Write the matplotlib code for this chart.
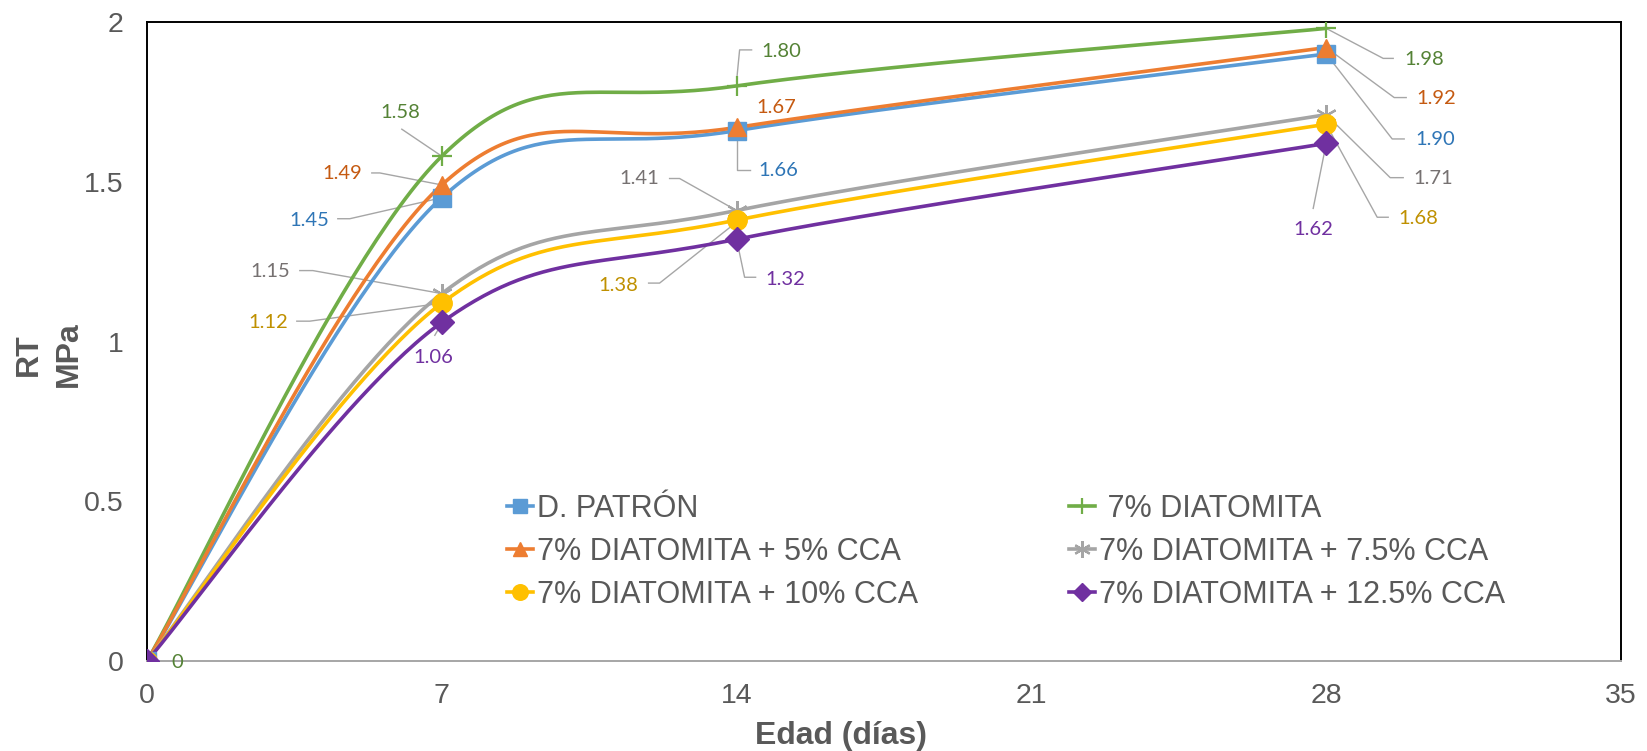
import numpy as np
import matplotlib
matplotlib.use('Agg')
import matplotlib.pyplot as plt
import matplotlib.transforms as mtransforms

# data
dias = [0, 7, 14, 28]
series_names = ['D. PATRÓN', ' 7% DIATOMITA', '7% DIATOMITA + 5% CCA',
                '7% DIATOMITA + 7.5% CCA', '7% DIATOMITA + 10% CCA',
                '7% DIATOMITA + 12.5% CCA']
patron = [0, 1.45, 1.66, 1.90]
diat = [0, 1.58, 1.80, 1.98]
cca5 = [0, 1.49, 1.67, 1.92]
cca75 = [0, 1.15, 1.41, 1.71]
cca10 = [0, 1.12, 1.38, 1.68]
cca125 = [0, 1.06, 1.32, 1.62]
xticks = [0, 7, 14, 21, 28, 35]
yticks = [0, 0.5, 1, 1.5, 2]
ytick_labels = ['0', '0.5', '1', '1.5', '2']

values = [patron, diat, cca5, cca75, cca10, cca125]
colors = ['#5B9BD5', '#70AD47', '#ED7D31', '#A5A5A5', '#FFC000', '#7030A0']
label_colors = ['#2E75B6', '#548235', '#C55A11', '#767171', '#BF9000', '#7030A0']
markers = ['s', '+', '^', (6, 2, 0), 'o', 'D']
msizes = [13, 15, 13, 15, 14, 12]

# label placement: offsets in pixels from the point (dx right, dy down), leader polyline
label_layout = {
    0: {1: ((-133, 23), [(-104, 21), (-92, 21), (0, 0)]),
        2: ((42, 40), [(0, 0), (0, 39), (13, 39)]),
        3: ((109, 86), [(0, 0), (66, 85), (78, 85)])},
    1: {0: ((30, 2), None),
        1: ((-42, -44), [(-40, -27), (0, 0)]),
        2: ((45, -34), [(15, -36), (3, -36), (0, -5)]),
        3: ((98, 31), [(0, 0), (57, 30), (67, 30)])},
    2: {1: ((-100, -11), [(-70, -12), (-62, -12), (0, 0)]),
        2: ((40, -20), None),
        3: ((110, 51), [(0, 0), (68, 50), (80, 50)])},
    3: {1: ((-172, -22), [(-142, -23), (-129, -23), (0, 0)]),
        2: ((-97, -32), [(-67, -32), (-57, -32), (0, 0)]),
        3: ((107, 64), [(0, 0), (64, 63), (77, 63)])},
    4: {1: ((-174, 19), [(-145, 18), (-132, 18), (0, 0)]),
        2: ((-118, 65), [(-88, 63), (-77, 63), (0, 2)]),
        3: ((92, 94), [(0, 0), (51, 93), (62, 93)])},
    5: {1: ((-9, 35), [(-7, 13), (0, 1)]),
        2: ((49, 40), [(0, 0), (8, 38), (19, 38)]),
        3: ((-13, 86), [(0, 0), (-13, 65)])},
}


def smooth(xs, ys, n=60):
    # excel-like smoothed line (cubic bezier, catmull-rom control points)
    p = np.column_stack([xs, ys]).astype(float)
    pts = [p[0]]
    for i in range(len(p) - 1):
        p0 = p[i - 1] if i > 0 else p[i]
        p3 = p[i + 2] if i + 2 < len(p) else p[i + 1]
        c1 = p[i] + (p[i + 1] - p0) / 6
        c2 = p[i + 1] - (p3 - p[i]) / 6
        t = np.linspace(0, 1, n)[1:, None]
        seg = ((1 - t) ** 3 * p[i] + 3 * (1 - t) ** 2 * t * c1
               + 3 * (1 - t) * t ** 2 * c2 + t ** 3 * p[i + 1])
        pts.extend(seg)
    pts = np.array(pts)
    return pts[:, 0], pts[:, 1]


plt.rcParams['font.family'] = ['Liberation Sans', 'DejaVu Sans']

fig = plt.figure(figsize=(16.47, 7.51), dpi=100)
ax = fig.add_axes([147 / 1647, 90 / 751, 1474 / 1647, 639 / 751])

handles = []
for k, (name, vals) in enumerate(zip(series_names, values)):
    sx, sy = smooth(dias, vals)
    ax.plot(sx, sy, color=colors[k], lw=2.6, zorder=3, solid_capstyle='round')
    mew = 1.6 if k in (1, 3) else 1
    ax.plot(dias, vals, ls='none', marker=markers[k], ms=msizes[k],
            color=colors[k], mec=colors[k], mew=mew, zorder=4)
    h, = ax.plot([], [], color=colors[k], lw=2.6, marker=markers[k],
                 ms=msizes[k], mec=colors[k], mew=mew)
    handles.append(h)

ax.set_xlim(0, 35)
ax.set_ylim(0, 2)

# data labels with leader lines
for k, layout in label_layout.items():
    for i, (off, leader) in layout.items():
        v = values[k][i]
        txt = '0' if v == 0 else f'{v:.2f}'
        trans = fig.dpi_scale_trans + mtransforms.ScaledTranslation(
            dias[i], v, ax.transData)
        if leader:
            lx = [p[0] / 100 for p in leader]
            ly = [-p[1] / 100 for p in leader]
            ax.plot(lx, ly, transform=trans, color='#A6A6A6', lw=1.0,
                    zorder=2, clip_on=False)
        ax.text(off[0] / 100, -off[1] / 100, txt, transform=trans,
                ha='center', va='center', fontsize=14.5,
                color=label_colors[k], family=['Lato', 'DejaVu Sans'],
                zorder=5)

ax.set_xticks(xticks)
ax.set_yticks(yticks)
ax.set_yticklabels(ytick_labels)
ax.tick_params(axis='both', length=0, labelsize=20.5, labelcolor='#595959')
ax.tick_params(axis='y', pad=17)
ax.tick_params(axis='x', pad=16)

for s in ['left', 'top', 'right']:
    ax.spines[s].set_color('#000000')
    ax.spines[s].set_linewidth(1.4)
ax.spines['bottom'].set_color('#A6A6A6')
ax.spines['bottom'].set_linewidth(1.4)

ax.set_xlabel('Edad (días)', fontsize=23, fontweight='bold', color='#595959',
              va='center')
ax.xaxis.set_label_coords(0.471, -0.117)
ax.set_ylabel('RT\nMPa', fontsize=23, fontweight='bold', color='#595959',
              linespacing=1.45, va='center')
ax.yaxis.set_label_coords(-0.0665, 0.48)

order = [0, 2, 4, 1, 3, 5]
leg = ax.legend([handles[j] for j in order], [series_names[j] for j in order],
                ncol=2, frameon=False, fontsize=22, loc='upper left',
                bbox_to_anchor=((507 - 147) / 1474, (661 - 494) / 639),
                borderpad=0, borderaxespad=0, handlelength=0.85,
                handletextpad=0.12, labelspacing=0.42, columnspacing=4.95,
                markerscale=0.8)
for t in leg.get_texts():
    t.set_color('#595959')

fig.savefig('out.png', dpi=100)
